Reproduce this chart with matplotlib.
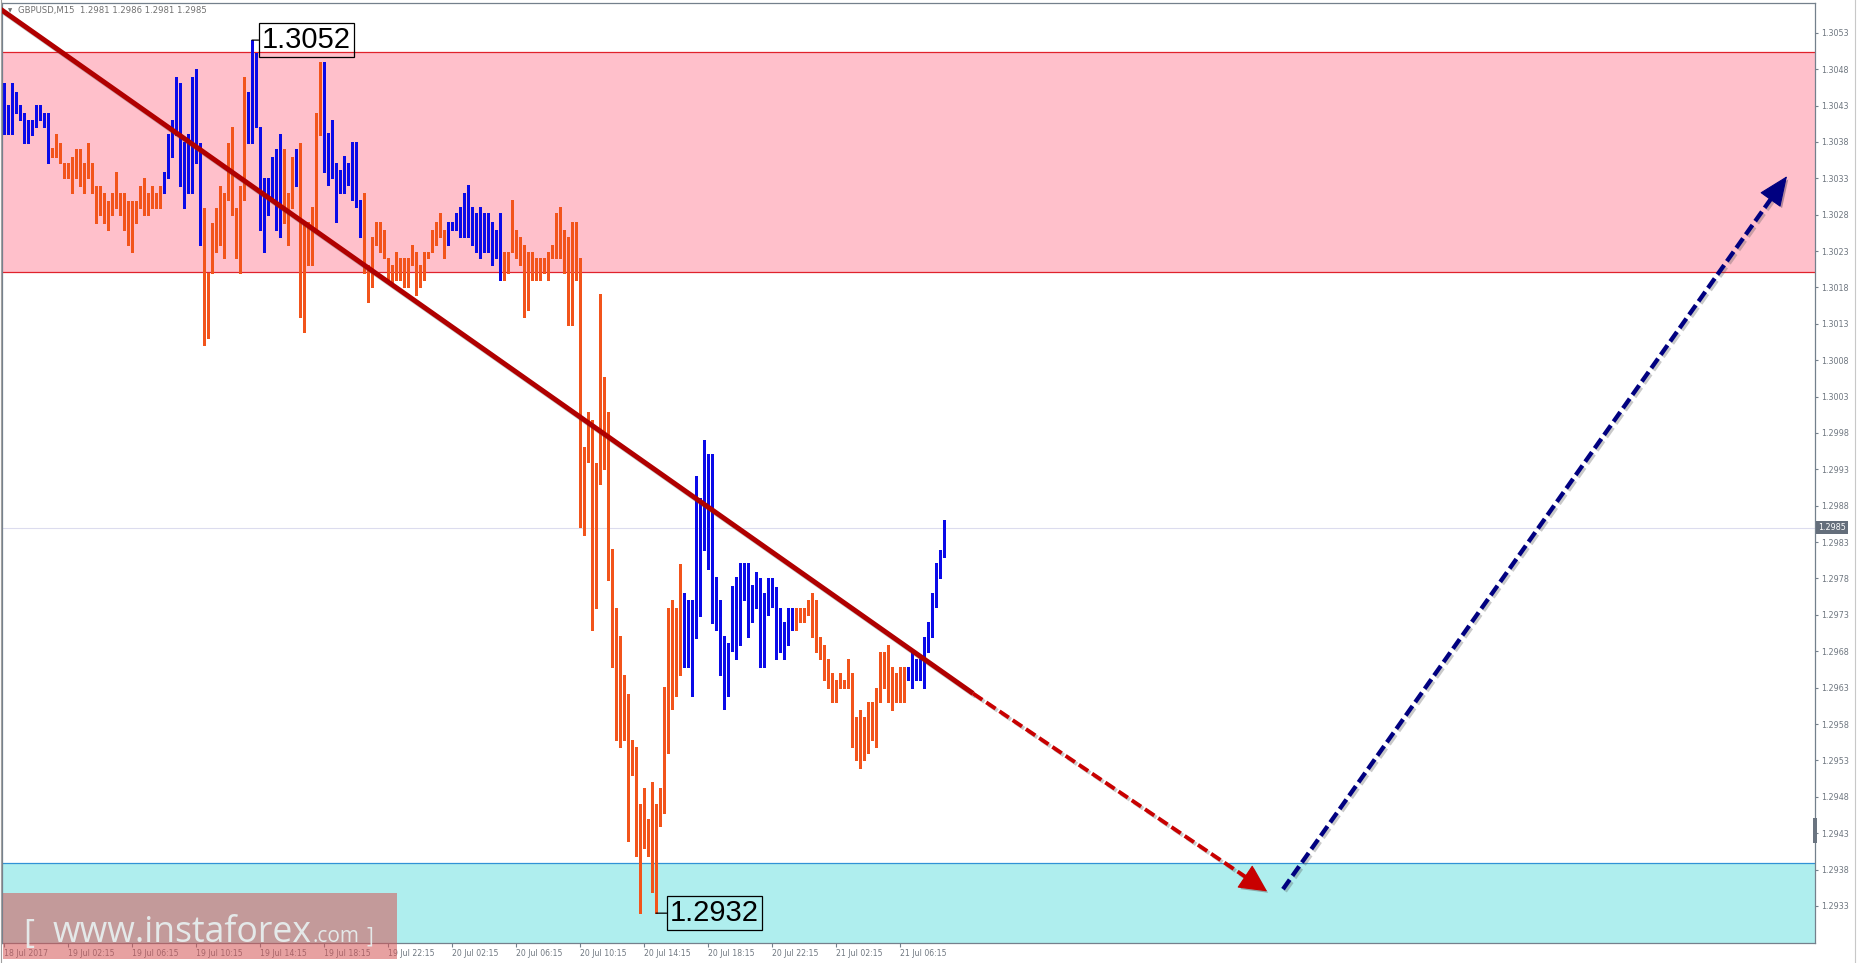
import numpy as np
import matplotlib
matplotlib.use("Agg")
import matplotlib.pyplot as plt
import matplotlib.patheffects as pe
import matplotlib.transforms as mtransforms
from matplotlib.patches import Rectangle
from matplotlib.lines import Line2D

W, H, DPI = 1857, 963, 100

# GBPUSD M15 bars, 18 Jul 22:15 .. 21 Jul 09:00
bar_high = [
    1.30461, 1.30431, 1.30461, 1.30449, 1.30431, 1.30420, 1.30410, 1.30410, 1.30431, 1.30431,
    1.30420, 1.30420, 1.30372, 1.30391, 1.30378, 1.30351, 1.30351, 1.30359, 1.30370, 1.30370,
    1.30351, 1.30378, 1.30351, 1.30319, 1.30319, 1.30310, 1.30299, 1.30310, 1.30339, 1.30310,
    1.30310, 1.30299, 1.30299, 1.30299, 1.30319, 1.30330, 1.30310, 1.30319, 1.30310, 1.30319,
    1.30339, 1.30391, 1.30410, 1.30469, 1.30461, 1.30380, 1.30391, 1.30469, 1.30480, 1.30378,
    1.30289, 1.30200, 1.30268, 1.30289, 1.30319, 1.30310, 1.30378, 1.30400, 1.30289, 1.30319,
    1.30469, 1.30449, 1.30520, 1.30502, 1.30400, 1.30330, 1.30330, 1.30359, 1.30370, 1.30391,
    1.30370, 1.30310, 1.30359, 1.30370, 1.30378, 1.30270, 1.30270, 1.30290, 1.30420, 1.30490,
    1.30490, 1.30392, 1.30410, 1.30351, 1.30341, 1.30361, 1.30351, 1.30380, 1.30380, 1.30300,
    1.30310, 1.30211, 1.30249, 1.30270, 1.30270, 1.30259, 1.30220, 1.30211, 1.30229, 1.30220,
    1.30220, 1.30220, 1.30238, 1.30229, 1.30211, 1.30229, 1.30229, 1.30259, 1.30270, 1.30282,
    1.30259, 1.30270, 1.30270, 1.30282, 1.30290, 1.30310, 1.30321, 1.30290, 1.30282, 1.30290,
    1.30282, 1.30282, 1.30270, 1.30259, 1.30282, 1.30229, 1.30229, 1.30300, 1.30259, 1.30249,
    1.30238, 1.30229, 1.30229, 1.30220, 1.30220, 1.30220, 1.30229, 1.30238, 1.30282, 1.30290,
    1.30259, 1.30249, 1.30270, 1.30270, 1.30220, 1.29961, 1.30009, 1.29998, 1.29939, 1.30171,
    1.30057, 1.30009, 1.29820, 1.29739, 1.29701, 1.29648, 1.29621, 1.29558, 1.29548, 1.29470,
    1.29492, 1.29449, 1.29500, 1.29470, 1.29492, 1.29631, 1.29739, 1.29750, 1.29739, 1.29800,
    1.29760, 1.29750, 1.29750, 1.29921, 1.29890, 1.29970, 1.29951, 1.29951, 1.29782, 1.29750,
    1.29701, 1.29691, 1.29770, 1.29782, 1.29801, 1.29801, 1.29801, 1.29771, 1.29789, 1.29780,
    1.29760, 1.29780, 1.29780, 1.29768, 1.29739, 1.29720, 1.29739, 1.29739, 1.29739, 1.29739,
    1.29739, 1.29750, 1.29760, 1.29750, 1.29699, 1.29688, 1.29670, 1.29650, 1.29640, 1.29650,
    1.29640, 1.29670, 1.29650, 1.29589, 1.29599, 1.29589, 1.29610, 1.29610, 1.29629, 1.29679,
    1.29679, 1.29688, 1.29658, 1.29650, 1.29658, 1.29658, 1.29658, 1.29679, 1.29670, 1.29670,
    1.29699, 1.29720, 1.29760, 1.29801, 1.29819, 1.29860,
]
bar_low = [
    1.30391, 1.30391, 1.30391, 1.30420, 1.30410, 1.30378, 1.30378, 1.30389, 1.30400, 1.30410,
    1.30400, 1.30351, 1.30359, 1.30359, 1.30351, 1.30330, 1.30330, 1.30310, 1.30330, 1.30319,
    1.30310, 1.30330, 1.30310, 1.30268, 1.30279, 1.30268, 1.30259, 1.30279, 1.30289, 1.30279,
    1.30259, 1.30238, 1.30229, 1.30268, 1.30289, 1.30279, 1.30279, 1.30289, 1.30289, 1.30289,
    1.30310, 1.30330, 1.30359, 1.30389, 1.30319, 1.30289, 1.30310, 1.30310, 1.30351, 1.30238,
    1.30101, 1.30110, 1.30200, 1.30229, 1.30238, 1.30220, 1.30300, 1.30279, 1.30220, 1.30200,
    1.30300, 1.30378, 1.30378, 1.30400, 1.30259, 1.30229, 1.30279, 1.30300, 1.30259, 1.30249,
    1.30268, 1.30238, 1.30289, 1.30319, 1.30139, 1.30119, 1.30211, 1.30211, 1.30259, 1.30389,
    1.30339, 1.30321, 1.30330, 1.30270, 1.30310, 1.30310, 1.30321, 1.30300, 1.30290, 1.30249,
    1.30200, 1.30160, 1.30180, 1.30238, 1.30229, 1.30220, 1.30187, 1.30187, 1.30190, 1.30190,
    1.30180, 1.30180, 1.30211, 1.30170, 1.30180, 1.30190, 1.30220, 1.30229, 1.30238, 1.30249,
    1.30220, 1.30238, 1.30259, 1.30259, 1.30249, 1.30249, 1.30249, 1.30238, 1.30229, 1.30220,
    1.30229, 1.30229, 1.30211, 1.30220, 1.30190, 1.30190, 1.30200, 1.30229, 1.30220, 1.30211,
    1.30139, 1.30149, 1.30190, 1.30190, 1.30190, 1.30200, 1.30190, 1.30220, 1.30220, 1.30220,
    1.30200, 1.30128, 1.30128, 1.30190, 1.29851, 1.29840, 1.29940, 1.29709, 1.29739, 1.29910,
    1.29931, 1.29778, 1.29658, 1.29558, 1.29548, 1.29558, 1.29419, 1.29510, 1.29398, 1.29320,
    1.29409, 1.29398, 1.29349, 1.29320, 1.29440, 1.29457, 1.29540, 1.29600, 1.29618, 1.29648,
    1.29658, 1.29658, 1.29618, 1.29698, 1.29728, 1.29819, 1.29793, 1.29719, 1.29709, 1.29648,
    1.29600, 1.29618, 1.29680, 1.29669, 1.29688, 1.29750, 1.29699, 1.29720, 1.29739, 1.29658,
    1.29658, 1.29730, 1.29741, 1.29670, 1.29679, 1.29670, 1.29688, 1.29709, 1.29709, 1.29720,
    1.29720, 1.29730, 1.29699, 1.29679, 1.29670, 1.29640, 1.29629, 1.29610, 1.29610, 1.29629,
    1.29629, 1.29629, 1.29548, 1.29530, 1.29519, 1.29530, 1.29540, 1.29558, 1.29548, 1.29610,
    1.29629, 1.29610, 1.29599, 1.29610, 1.29610, 1.29610, 1.29640, 1.29629, 1.29640, 1.29640,
    1.29629, 1.29679, 1.29699, 1.29741, 1.29780, 1.29809,
]
# runs of bars drawn in blue (bullish); everything else is orange-red
up_runs = [(1, 12), (41, 50), (62, 70), (74, 74), (81, 90), (112, 125), (171, 198), (227, 236)]

resist_zone = [1.30201, 1.30503]
support_top = 1.29389
last_price = 1.2985
high_mark = (63, 1.3052, "1.3052")
low_mark = (164, 1.2932, "1.2932")

trend_x = [0.0, 243.25]
trend_y = [1.30563, 1.29622]
down_x = [243.25, 316.75]
down_y = [1.29622, 1.29350]
up_x = [320.75, 446.75]
up_y = [1.29353, 1.30333]

time_pos = [1, 17, 33, 49, 65, 81, 97, 113, 129, 145, 161, 177, 193, 209, 225]
time_labels = ["18 Jul 2017", "19 Jul 02:15", "19 Jul 06:15", "19 Jul 10:15", "19 Jul 14:15",
               "19 Jul 18:15", "19 Jul 22:15", "20 Jul 02:15", "20 Jul 06:15", "20 Jul 10:15",
               "20 Jul 14:15", "20 Jul 18:15", "20 Jul 22:15", "21 Jul 02:15", "21 Jul 06:15"]
price_ticks = [1.3053, 1.3048, 1.3043, 1.3038, 1.3033, 1.3028, 1.3023, 1.3018, 1.3013,
               1.3008, 1.3003, 1.2998, 1.2993, 1.2988, 1.2983, 1.2978, 1.2973, 1.2968,
               1.2963, 1.2958, 1.2953, 1.2948, 1.2943, 1.2938, 1.2933]
header = "GBPUSD,M15  1.2981 1.2986 1.2981 1.2985"

AXC = "#74808c"
TXC = "#6f7780"


def fx(px):
    return px / W


def fy(py):
    return 1 - py / H


def dashed_arrow(ax, xs, ys, color, lw, dash, hl, hw):
    p0 = ax.transData.transform((xs[0], ys[0]))
    p1 = ax.transData.transform((xs[1], ys[1]))
    d = p1 - p0
    L = np.hypot(*d)
    base = p1 - d / L * hl * 0.8
    bx, by = ax.transData.inverted().transform(base)
    shadow = [pe.SimpleLineShadow(offset=(1.5, -1.5), shadow_color="0.3", alpha=0.3), pe.Normal()]
    ax.plot([xs[0], bx], [ys[0], by], color=color, lw=lw, linestyle=(0, dash),
            solid_capstyle="butt", dash_capstyle="butt", zorder=4, path_effects=shadow)
    hl_pt = hl * 72 / DPI
    hw_pt = hw * 72 / DPI / 2
    ax.annotate("", xy=(xs[1], ys[1]), xytext=(bx, by), zorder=4,
                arrowprops=dict(arrowstyle=f"-|>,head_length={hl_pt},head_width={hw_pt}",
                                mutation_scale=1, color=color, lw=0.8,
                                shrinkA=0, shrinkB=0,
                                path_effects=[pe.SimplePatchShadow(offset=(1.5, -1.5),
                                                                   alpha=0.3),
                                              pe.Normal()]))


fig = plt.figure(figsize=(W / DPI, H / DPI), dpi=DPI)
ax = fig.add_axes([fx(2), 20 / H, 1813 / W, 940 / H])
ax.set_xlim(0.5, 453.75)
ax.set_ylim(1.29279, 1.30571)

# zones
ax.axhspan(resist_zone[0], resist_zone[1], fc="#ffc0cb", ec="none", zorder=0)
for lvl in resist_zone:
    ax.axhline(lvl, color="#e0222c", lw=0.9, zorder=1)
ax.axhspan(1.2900, support_top, fc="#afeeee", ec="none", zorder=0)
ax.axhline(support_top, color="#3192d6", lw=0.9, zorder=1)
ax.axhline(last_price, color="#dcdcee", lw=0.8, zorder=1)

# bars
idx = np.arange(1, len(bar_high) + 1)
is_up = np.zeros(len(idx), dtype=bool)
for a, b in up_runs:
    is_up[a - 1:b] = True
cols = np.where(is_up, "#0a0ae8", "#f2541b")
ax.vlines(idx, bar_low, bar_high, colors=cols, lw=1.9, antialiased=False, zorder=2)

# trend line and forecast arrows
ax.plot(trend_x, trend_y, color="#b00000", lw=3.6, solid_capstyle="butt", zorder=4,
        path_effects=[pe.SimpleLineShadow(offset=(2, -2), shadow_color="0.3", alpha=0.3),
                      pe.Normal()])
dashed_arrow(ax, down_x, down_y, "#c80000", 2.8, (2.9, 1.2), 25, 25)
dashed_arrow(ax, up_x, up_y, "#000080", 3.1, (2.7, 1.1), 27, 23)

# extreme labels
for (i, p, txt), off in [(high_mark, 10), (low_mark, 14)]:
    ax.annotate(txt, xy=(i, p), xytext=(off, 0), textcoords="offset pixels",
                ha="left", va="center", fontsize=21, family="Liberation Sans", color="black",
                zorder=5,
                bbox=dict(boxstyle="square,pad=0.1", fc="none", ec="black", lw=0.9),
                arrowprops=dict(arrowstyle="-", color="black", lw=0.9, shrinkA=0, shrinkB=0))

# axes styling
for s in ax.spines.values():
    s.set_color(AXC)
    s.set_linewidth(0.9)
ax.yaxis.tick_right()
ax.set_yticks(price_ticks)
ax.set_yticklabels([f"{v:.4f}" for v in price_ticks])
ax.tick_params(axis="y", length=2.5, width=0.8, color=AXC, pad=1.8, labelsize=5.8,
               labelcolor=TXC)
ax.set_xticks(time_pos)
ax.set_xticklabels(time_labels)
ax.tick_params(axis="x", length=3, width=0.8, color=AXC, pad=1.0, labelsize=5.6,
               labelcolor=TXC)
for lbl in ax.get_xticklabels():
    lbl.set_ha("left")

# last price tag on the axis
tr = mtransforms.blended_transform_factory(ax.transAxes, ax.transData)
ax.text(1.0017, last_price, f"{last_price:.4f}", transform=tr, ha="left", va="center",
        fontsize=5.8, color="white", zorder=6, clip_on=False,
        bbox=dict(boxstyle="square,pad=0.25", fc="#646e7b", ec="none"))
ax.add_patch(Rectangle((0.9989, 0.1064), 0.0022, 0.0266, transform=ax.transAxes,
                       fc="#6a7480", ec="none", clip_on=False, zorder=6))

# header
fig.text(fx(8), fy(10.5), "\u25bc", fontsize=4, color="#707070", va="center")
fig.text(fx(18), fy(10.5), header, fontsize=6.1, color="#707070", va="center")

# frame edges of the window
fig.add_artist(Line2D([fx(0.5), fx(0.5)], [0, 1], color="#a0a0a0", lw=0.8))
fig.add_artist(Line2D([fx(1855), fx(1855)], [0, 1], color="#c8c8c8", lw=0.8))

# watermark
fig.add_artist(Rectangle((fx(3), fy(959)), (397 - 3) / W, (959 - 893) / H,
                         transform=fig.transFigure, fc=(213 / 255, 85 / 255, 85 / 255),
                         alpha=0.55, ec="none", zorder=10))
wm = dict(color="#e8f2f2", family="Open Sans", va="baseline", zorder=11, alpha=0.9)
renderer = fig.canvas.get_renderer()
fig.text(fx(23), fy(943), "[", fontsize=24, **wm)
main = fig.text(fx(53), fy(942), "www.instaforex", fontsize=26, **wm)
w0 = main.get_window_extent(renderer).width
main.set_fontsize(26 * 260 / w0)
x_end = main.get_window_extent(renderer).x1
fig.text(x_end / W, fy(942), ".com", fontsize=15, **wm)
fig.text(fx(366), fy(942), "]", fontsize=15, **wm)

fig.savefig("out.png", dpi=DPI)
